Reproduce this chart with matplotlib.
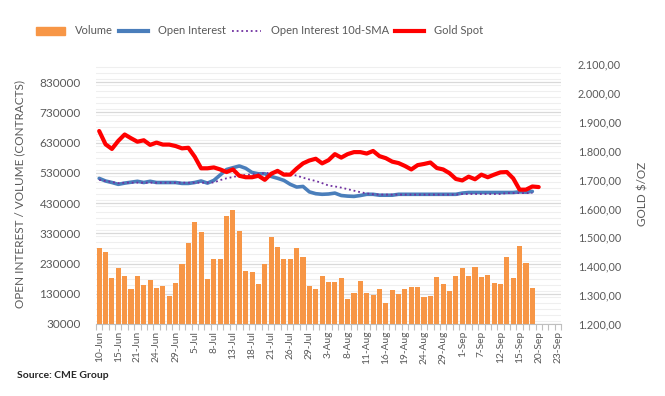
import numpy as np
import pandas as pd
import matplotlib
matplotlib.use("Agg")
import matplotlib.pyplot as plt
from matplotlib.patches import Patch
from matplotlib.lines import Line2D
from matplotlib.ticker import FuncFormatter, MultipleLocator

# Trading days (US business days, holidays removed)
dates = pd.bdate_range("2022-06-10", "2022-09-23", freq="C",
                       holidays=["2022-06-20", "2022-07-04", "2022-09-05"])
date_labels = [f"{d.day}-{d.strftime('%b')}" for d in dates]

volume = [
    281000, 268000, 182000, 215000, 188500, 145000, 188500, 158600, 175000, 148600,
    155000, 122000, 165000, 229000, 298000, 368000, 335000, 178500, 245000, 245000,
    388000, 408000, 338000, 205000, 202000, 162000, 228000, 318000, 285000, 245000,
    245000, 281000, 252000, 155000, 145000, 188500, 168500, 168500, 182000, 112000,
    132000, 172000, 132000, 125000, 145000, 99000, 142000, 128700, 145000, 152000,
    152000, 118700, 122000, 185000, 162000, 138600, 188500, 215000, 188500, 218000,
    185000, 192000, 165000, 162000, 252000, 182000, 288000, 232000, 148600,
]

open_interest = [
    511700, 503000, 498000, 492000, 496000, 499000, 502000, 498000, 502000, 498000,
    498000, 498000, 498000, 495000, 495000, 498000, 503000, 496000, 505000, 523000,
    541000, 547000, 552600, 545000, 531000, 527000, 527000, 518000, 512000, 505000,
    492000, 483000, 485000, 467000, 461000, 459000, 460000, 463000, 455000, 453000,
    452000, 455000, 459000, 459000, 456000, 456000, 456000, 459000, 459000, 459000,
    459000, 459000, 459000, 459000, 459000, 459000, 459000, 463000, 465000, 465000,
    465000, 465000, 465000, 465000, 465000, 465000, 467000, 466000, 468500,
]

oi_sma = [
    507000, 503000, 499500, 496000, 497400, 497400, 497400, 497400, 497400, 497400,
    497400, 497400, 497400, 497400, 497400, 497400, 497400, 497400, 498000, 506000,
    512000, 516000, 521000, 523000, 525000, 527000, 529000, 530000, 532000, 529000,
    525000, 521000, 514000, 508000, 503000, 496000, 488000, 485000, 481000, 476000,
    471000, 466000, 462000, 459000, 458000, 458000, 458000, 458000, 458000, 458000,
    458000, 458000, 458000, 458000, 458000, 458000, 458000, 460000, 460000, 460000,
    460000, 460000, 460000, 460000, 463000, 463000, 463000, 463000, 463000,
]

gold_spot = [
    1868, 1822, 1806, 1834, 1856, 1843, 1831, 1836, 1820, 1828,
    1821, 1821, 1816, 1808, 1810, 1779, 1739, 1739, 1742, 1735,
    1726, 1735, 1713, 1708, 1708, 1713, 1699, 1720, 1730, 1717,
    1717, 1738, 1756, 1766, 1772, 1756, 1767, 1788, 1776, 1788,
    1795, 1795, 1790, 1799, 1781, 1774, 1762, 1757, 1747, 1735,
    1750, 1754, 1759, 1740, 1735, 1722, 1702, 1697, 1710, 1701,
    1717, 1708, 1717, 1725, 1726, 1704, 1665, 1665, 1676, 1674,
]

ORANGE = "#F79646"
BLUE = "#4A7EBB"
PURPLE = "#7030A0"
RED = "#FF0000"
TEXT = "#595959"

plt.rcParams["font.family"] = ["Lato", "DejaVu Sans"]

fig = plt.figure(figsize=(6.65, 3.96), dpi=100)
ax = fig.add_axes([96 / 665, 72 / 396, 465 / 665, 260 / 396])
ax2 = ax.twinx()

n_cat = len(dates)
ax.bar(np.arange(len(volume)), volume, width=0.8, color=ORANGE, zorder=2)
ax.plot(np.arange(len(open_interest)), open_interest, color=BLUE, lw=2.6,
        solid_capstyle="round", zorder=3)
ax.plot(np.arange(len(oi_sma)), oi_sma, color=PURPLE, lw=1.3,
        linestyle=(0, (1, 1.6)), zorder=4)
ax2.plot(np.arange(len(gold_spot)), gold_spot, color=RED, lw=3.0,
         solid_capstyle="round", solid_joinstyle="round")

# Left axis
ax.set_xlim(-0.5, n_cat - 0.5)
ax.set_ylim(30000, 890000)
ax.set_yticks(np.arange(30000, 830001, 100000))
ax.yaxis.set_minor_locator(MultipleLocator(20000))
ax.set_axisbelow(True)
ax.grid(axis="y", which="major", color="#D9D9D9", lw=0.9)
ax.grid(axis="y", which="minor", color="#EFEFEF", lw=0.8)
ax.tick_params(axis="y", which="both", length=0, labelsize=8.5,
               labelcolor=TEXT, pad=11)
ax.set_ylabel("OPEN INTEREST / VOLUME (CONTRACTS)", fontsize=8.5,
              color=TEXT, labelpad=10)

# Category axis
ax.set_xticks(np.arange(0, n_cat, 3))
ax.set_xticklabels(date_labels[::3], rotation=90)
ax.set_xticks(np.arange(-0.5, n_cat, 1), minor=True)
ax.tick_params(axis="x", which="major", length=0, labelsize=7.3,
               labelcolor=TEXT, pad=5)
ax.tick_params(axis="x", which="minor", length=4, color="#BFBFBF", width=0.8)

for side in ["top", "left", "right"]:
    ax.spines[side].set_visible(False)
    ax2.spines[side].set_visible(False)
ax.spines["bottom"].set_color("#BFBFBF")
ax2.spines["bottom"].set_visible(False)

# Right axis
ax2.set_ylim(1200, 2100)
ax2.set_yticks(np.arange(1200, 2101, 100))
ax2.yaxis.set_major_formatter(FuncFormatter(
    lambda v, p: f"{v:,.2f}".replace(",", " ").replace(".", ",").replace(" ", ".")))
ax2.tick_params(axis="y", length=0, labelsize=7.8, labelcolor=TEXT, pad=12)
ax2.set_ylabel("GOLD $/OZ", fontsize=8.5, color=TEXT, rotation=90, labelpad=12)

handles = [
    Patch(color=ORANGE),
    Line2D([], [], color=BLUE, lw=3),
    Line2D([], [], color=PURPLE, lw=1.3, linestyle=(0, (1, 1.6))),
    Line2D([], [], color=RED, lw=3),
]
labels = ["Volume", "Open Interest", "Open Interest 10d-SMA", "Gold Spot"]
leg = fig.legend(handles, labels, loc="center left",
                 bbox_to_anchor=(36 / 665, 1 - 31 / 396), ncol=4,
                 frameon=False, fontsize=8.0, handlelength=2.6,
                 handletextpad=0.95, columnspacing=0.5, borderpad=0,
                 borderaxespad=0)
for t in leg.get_texts():
    t.set_color(TEXT)

fig.text(17 / 665, 1 - 375 / 396, "Source: CME Group", fontsize=7.5,
         fontweight="bold", color="#262626", va="center")

fig.savefig("out.png", dpi=100)
